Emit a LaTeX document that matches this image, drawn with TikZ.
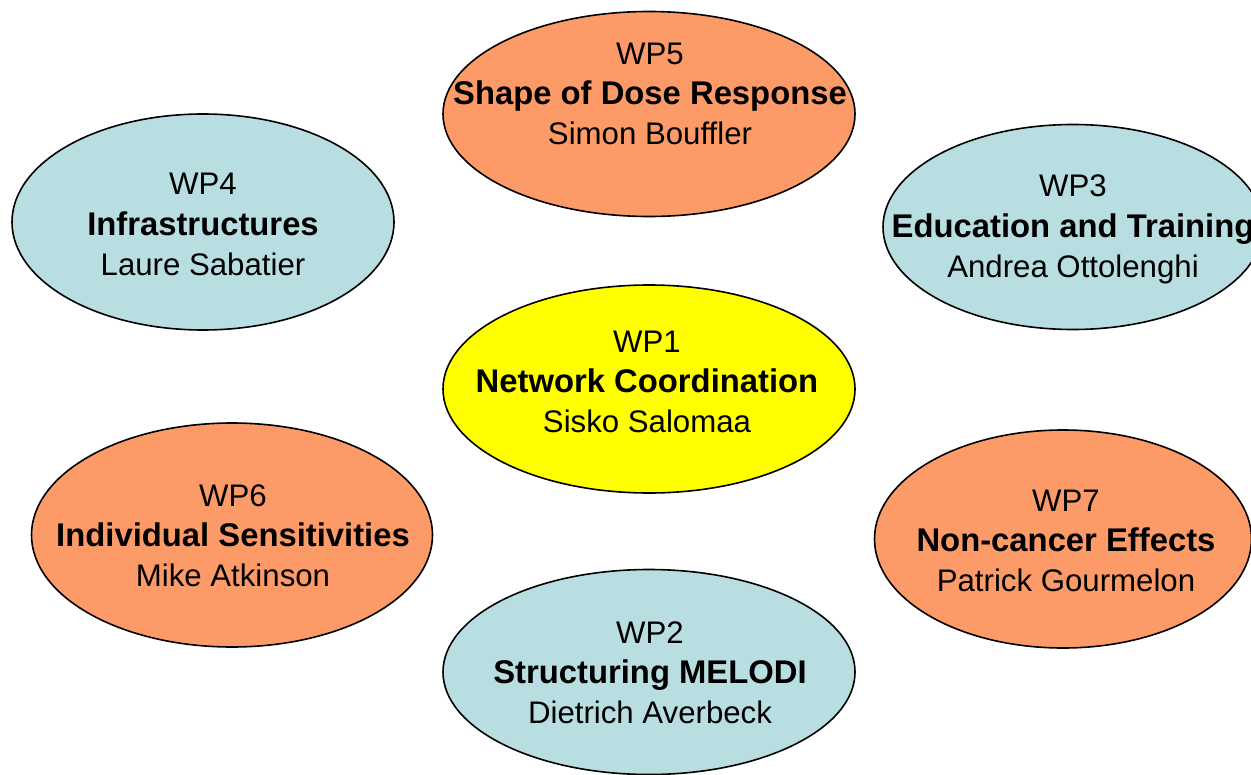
\documentclass[tikz,border=0pt]{standalone}
\usepackage{fontspec}
\setmainfont{Liberation Sans}
\usepackage{tikz}
\usetikzlibrary{shapes.geometric, positioning}

\definecolor{wporange}{RGB}{252,154,104}
\definecolor{wpblue}{RGB}{184,222,226}
\definecolor{wpyellow}{RGB}{255,255,0}

\tikzset{
	wp/.style={ellipse, draw=black, line width=0.8pt, inner sep=0pt},
	wptext/.style={align=center, inner sep=0pt, font=\fontsize{15.6}{20}\selectfont},
}
\newcommand{\wplabel}[3]{\strut #1\\{\fontsize{16.4}{20}\selectfont\bfseries #2}\\#3\strut}

\begin{document}
\begin{tikzpicture}[x=0.5pt, y=-0.5pt]
	\useasboundingbox (0,0) rectangle (1251,775);
	\clip (0,0) rectangle (1251,775);

	% work package ellipses
	\node[wp, fill=wporange, minimum width=206pt, minimum height=102.5pt] (wp5) at (649,114) {};
	\node[wp, fill=wpblue, minimum width=191pt, minimum height=108pt] (wp4) at (203,222) {};
	\node[wp, fill=wpblue, minimum width=190pt, minimum height=102.5pt] (wp3) at (1073,227) {};
	\node[wp, fill=wpyellow, minimum width=206pt, minimum height=104pt] (wp1) at (649,389) {};
	\node[wp, fill=wporange, minimum width=200.5pt, minimum height=112pt] (wp6) at (232,535) {};
	\node[wp, fill=wporange, minimum width=188.5pt, minimum height=109pt] (wp7) at (1063,539) {};
	\node[wp, fill=wpblue, minimum width=206pt, minimum height=102.5pt] (wp2) at (649,672) {};

	% labels
	\node[wptext] (wp5-text) at (650,97) {\wplabel{WP5}{Shape of Dose Response}{Simon Bouffler}};
	\node[wptext] (wp4-text) at (203,227) {\wplabel{WP4}{Infrastructures}{Laure Sabatier}};
	\node[wptext] (wp3-text) at (1073,229) {\wplabel{WP3}{Education and Training}{Andrea Ottolenghi}};
	\node[wptext] (wp1-text) at (647,384) {\wplabel{WP1}{Network Coordination}{Sisko Salomaa}};
	\node[wptext] (wp6-text) at (233,538) {\wplabel{WP6}{Individual Sensitivities}{Mike Atkinson}};
	\node[wptext] (wp7-text) at (1066,543) {\wplabel{WP7}{Non-cancer Effects}{Patrick Gourmelon}};
	\node[wptext] (wp2-text) at (650,675) {\wplabel{WP2}{Structuring MELODI}{Dietrich Averbeck}};
\end{tikzpicture}
\end{document}
